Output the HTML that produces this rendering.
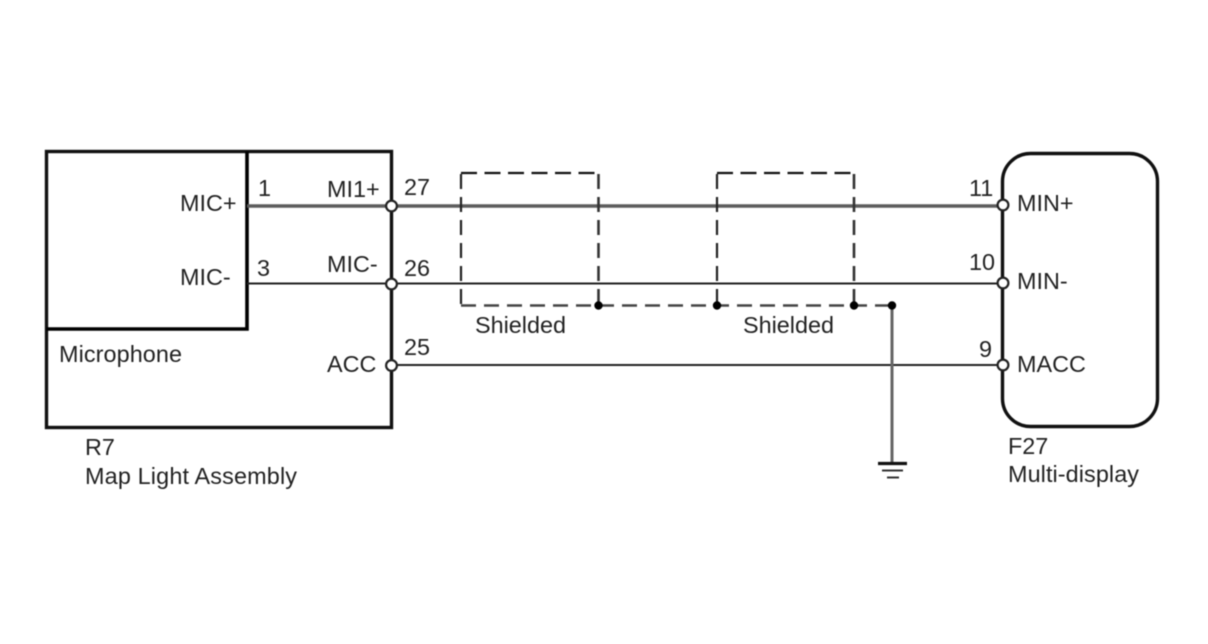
<!DOCTYPE html>
<html><head><meta charset="utf-8"><style>
html,body{margin:0;padding:0;background:#fff;width:1208px;height:644px;overflow:hidden}
svg{display:block}
text{font-family:"Liberation Sans",sans-serif;font-size:23.4px;fill:#222}
</style></head><body>
<svg width="1208" height="644" viewBox="0 0 1208 644" xmlns="http://www.w3.org/2000/svg">
<rect width="1208" height="644" fill="#fff"/>
<g style="filter:blur(0.4px)">
<g fill="none" stroke-linecap="butt">
<rect x="46.5" y="151.5" width="345" height="276" stroke="#111" stroke-width="3.4"/>
<path d="M46.5 329H247V151.5" stroke="#000" stroke-width="3.6"/>
<rect x="1002.5" y="153.5" width="155" height="273" rx="28" ry="28" stroke="#111" stroke-width="3.4"/>
<path d="M247 206H1003" stroke="#5c5c5c" stroke-width="3.4"/>
<path d="M247 283.5H1003" stroke="#222" stroke-width="2"/>
<path d="M391 365H1003" stroke="#222" stroke-width="2"/>
<g stroke="#111" stroke-width="2.2" stroke-dasharray="16 7.500">
<path d="M461 173H598"/>
<path d="M717 173H854"/>
</g>
<g stroke="#222" stroke-width="2.2" stroke-dasharray="15 8">
<path d="M461 174V305"/>
<path d="M717 174V305"/>
</g>
<g stroke="#333" stroke-width="2.600" stroke-dasharray="15 8">
<path d="M598.500 174V305"/>
<path d="M854 174V305"/>
</g>
<path d="M461 305.500H892" stroke="#444" stroke-width="2.600" stroke-dasharray="15 8"/>
<path d="M892 305V463" stroke="#666" stroke-width="3"/>
<path d="M878 463.500H907" stroke="#111" stroke-width="3.2"/>
<path d="M882 470.500H903" stroke="#333" stroke-width="2"/>
<path d="M887 477.500H899" stroke="#333" stroke-width="2"/>
</g>
<g fill="#000">
<circle cx="598.500" cy="305.500" r="4.200"/>
<circle cx="717" cy="305.500" r="4.200"/>
<circle cx="854" cy="305.500" r="4.200"/>
<circle cx="892" cy="305.500" r="4.200"/>
</g>
<g fill="#fff" stroke="#222" stroke-width="2.2">
<circle cx="391.500" cy="206" r="5.400"/>
<circle cx="391.500" cy="284" r="5.400"/>
<circle cx="391.500" cy="365.500" r="5.400"/>
<circle cx="1003" cy="205" r="5.400"/>
<circle cx="1003" cy="283" r="5.400"/>
<circle cx="1003" cy="365" r="5.400"/>
</g>
<text x="180" y="211">MIC+</text>
<text x="180" y="285">MIC-</text>
<text x="258" y="196">1</text>
<text x="257" y="276">3</text>
<text x="327" y="197">MI1+</text>
<text x="327" y="272">MIC-</text>
<text x="327" y="372">ACC</text>
<text x="404" y="195">27</text>
<text x="404" y="276">26</text>
<text x="404" y="355">25</text>
<text x="59" y="362" textLength="123">Microphone</text>
<text x="85" y="455">R7</text>
<text x="85" y="484" textLength="212">Map Light Assembly</text>
<text x="475" y="333" textLength="91">Shielded</text>
<text x="743" y="333" textLength="91">Shielded</text>
<text x="969" y="196">11</text>
<text x="969" y="270">10</text>
<text x="979" y="357">9</text>
<text x="1017" y="211">MIN+</text>
<text x="1017" y="289">MIN-</text>
<text x="1017" y="372">MACC</text>
<text x="1008" y="454">F27</text>
<text x="1008" y="482" textLength="131">Multi-display</text>
</g>
</svg>
</body></html>
